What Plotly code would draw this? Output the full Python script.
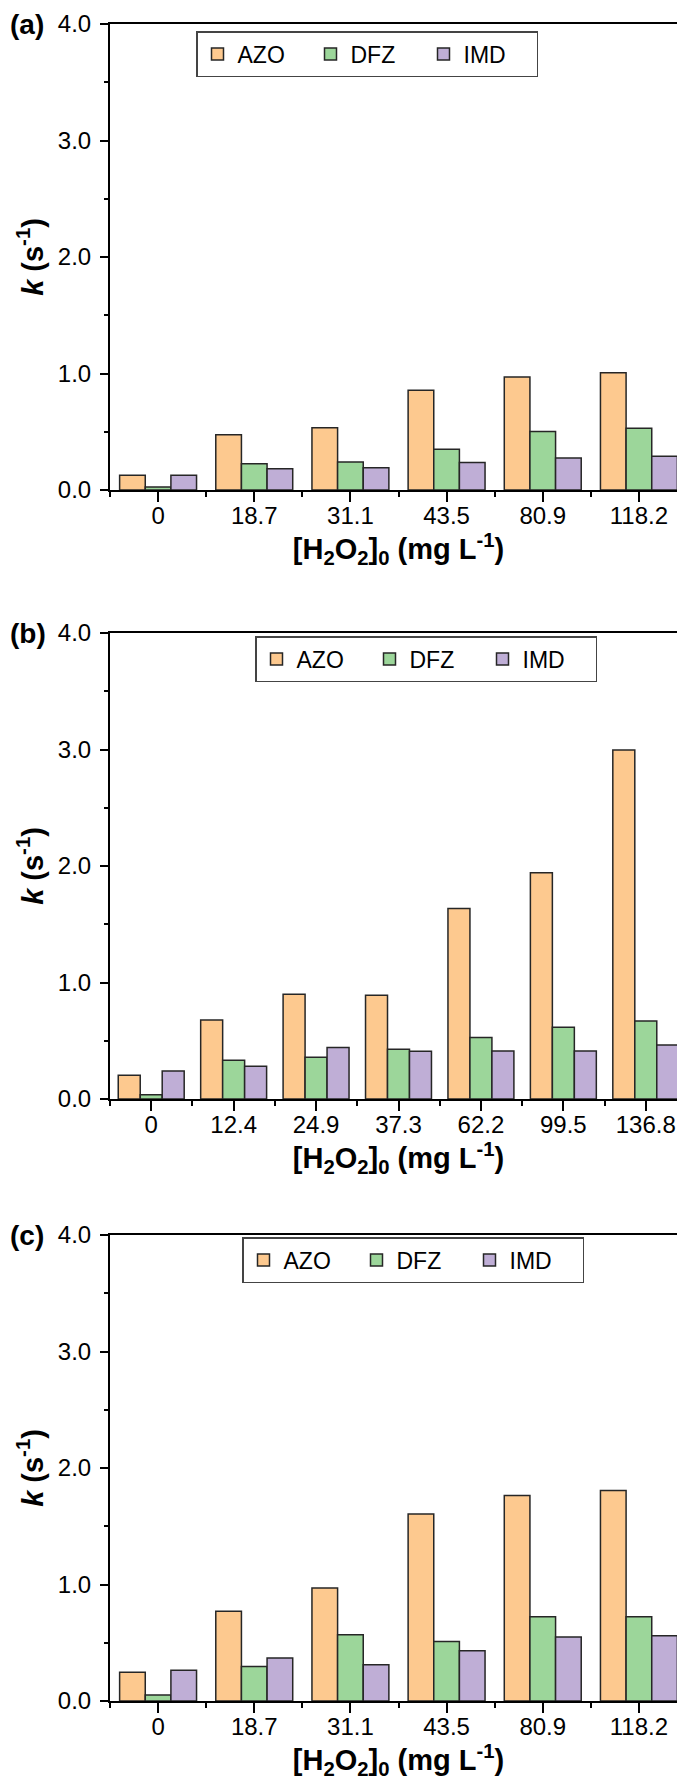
import plotly.graph_objects as go

# ---------------- data ----------------
series_names = ["AZO", "DFZ", "IMD"]
colors = ["#FDC98F", "#9CD69A", "#BFAED6"]

cats_a = ["0", "18.7", "31.1", "43.5", "80.9", "118.2"]
azo_a = [0.126, 0.474, 0.534, 0.857, 0.971, 1.006]
dfz_a = [0.026, 0.226, 0.240, 0.349, 0.503, 0.529]
imd_a = [0.126, 0.183, 0.191, 0.237, 0.274, 0.289]

cats_b = ["0", "12.4", "24.9", "37.3", "62.2", "99.5", "136.8"]
azo_b = [0.203, 0.679, 0.900, 0.891, 1.636, 1.943, 2.995]
dfz_b = [0.037, 0.332, 0.358, 0.427, 0.527, 0.616, 0.670]
imd_b = [0.241, 0.281, 0.441, 0.410, 0.413, 0.413, 0.464]

cats_c = ["0", "18.7", "31.1", "43.5", "80.9", "118.2"]
azo_c = [0.246, 0.771, 0.969, 1.606, 1.763, 1.806]
dfz_c = [0.051, 0.297, 0.569, 0.511, 0.723, 0.723]
imd_c = [0.263, 0.369, 0.311, 0.431, 0.549, 0.560]

y_ticks = [0, 1, 2, 3, 4]
panel_labels = ["(a)", "(b)", "(c)"]

# ---------------- layout geometry ----------------
W, H = 685, 1787
FONT = "Liberation Sans, Arial, Helvetica, sans-serif"
x_dom = [102 / W, 679 / W]
panels_px = [(16, 482), (625, 1091), (1227, 1693)]  # top, bottom in px
legend_px = [(188, 23), (247, 628), (234, 1229)]

panels = [
    (cats_a, [azo_a, dfz_a, imd_a]),
    (cats_b, [azo_b, dfz_b, imd_b]),
    (cats_c, [azo_c, dfz_c, imd_c]),
]

fig = go.Figure()
layout = dict(
    width=W, height=H, autosize=False,
    margin=dict(l=0, r=0, t=0, b=0),
    paper_bgcolor="white", plot_bgcolor="white",
    barmode="group", bargap=0.2, bargroupgap=0,
    font=dict(family=FONT, size=24, color="black"),
    annotations=[],
)

for p, (cats, vals) in enumerate(panels):
    n = len(cats)
    xs = list(range(n))
    suffix = "" if p == 0 else str(p + 1)
    leg = "legend" + suffix
    for s, name in enumerate(series_names):
        fig.add_trace(go.Bar(
            x=xs, y=vals[s], name=name,
            marker=dict(color=colors[s], line=dict(color="#262626", width=1.5)),
            xaxis="x" + suffix, yaxis="y" + suffix,
            legend=leg, offsetgroup=str(s),
        ))
    top, bot = panels_px[p]
    ydom = [1 - bot / H, 1 - top / H]
    layout["xaxis" + suffix] = dict(
        domain=x_dom, anchor="y" + suffix,
        range=[-0.5, n - 0.5],
        tickmode="array", tickvals=xs, ticktext=cats,
        ticks="outside", ticklen=10, tickwidth=2, tickcolor="black",
        ticklabelstandoff=-7,
        minor=dict(tickmode="array", tickvals=[i - 0.5 for i in range(n + 1)],
                   ticks="outside", ticklen=5, tickwidth=2, tickcolor="black"),
        showline=True, linecolor="black", linewidth=2, mirror=True,
        showgrid=False, zeroline=False, automargin=False,
        tickfont=dict(size=24, family=FONT),
        title=dict(text="<b>[H<sub>2</sub>O<sub>2</sub>]<sub>0</sub> (mg L<sup>-1</sup>)</b>",
                   font=dict(size=29, family=FONT), standoff=10),
    )
    layout["yaxis" + suffix] = dict(
        domain=ydom, anchor="x" + suffix,
        range=[0, 4],
        tickmode="array", tickvals=y_ticks, tickformat=".1f",
        ticks="outside", ticklen=8, tickwidth=2, tickcolor="black",
        ticklabelstandoff=4,
        minor=dict(dtick=0.5, tick0=0, ticks="outside", ticklen=4,
                   tickwidth=2, tickcolor="black"),
        showline=True, linecolor="black", linewidth=2, mirror=True,
        showgrid=False, zeroline=False, automargin=False,
        tickfont=dict(size=24, family=FONT),
        title=dict(text="<b><i>k</i> (s<sup>-1</sup>)</b>",
                   font=dict(size=29, family=FONT), standoff=6),
    )
    lx, ly = legend_px[p]
    layout[leg] = dict(
        x=lx / W, y=1 - ly / H, xanchor="left", yanchor="top",
        orientation="h", bgcolor="white",
        bordercolor="#444444", borderwidth=1.5,
        font=dict(size=23, family=FONT),
        entrywidth=68, entrywidthmode="pixels",
        traceorder="normal",
    )
    layout["annotations"].append(dict(
        text="<b>" + panel_labels[p] + "</b>", xref="paper", yref="paper",
        x=0, y=1 - top / H, xanchor="left", yanchor="middle",
        showarrow=False, font=dict(size=28, family=FONT),
    ))

fig.update_layout(**layout)
fig.write_html("out.html")
